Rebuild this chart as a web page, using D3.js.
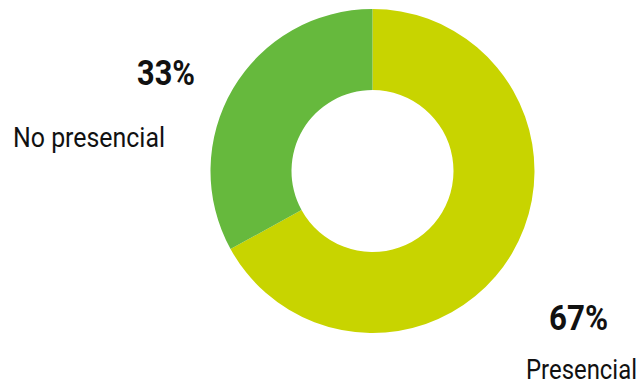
<!DOCTYPE html>
<html>
<head>
<meta charset="utf-8">
<script src="https://cdn.jsdelivr.net/npm/d3@7"></script>
<style>
  html, body { margin: 0; padding: 0; background: #fff; }
  text { font-family: "Roboto", "Liberation Sans", sans-serif; fill: #111; }
</style>
</head>
<body>
<div id="container"></div>
<script>
var labels = ['Presencial', 'No presencial'],
    values = [67, 33],
    colors = ['#c8d400', '#66b93d'],
    width = 643,
    height = 385,
    cx = 372.5,
    cy = 171,
    outerR = 162,
    innerR = 81,
    svg, pie, arc;

svg = d3.select('#container').append('svg')
  .attr('width', width)
  .attr('height', height);

pie = d3.pie().sort(null).value(function (d) { return d; });
arc = d3.arc().innerRadius(innerR).outerRadius(outerR);

svg.append('g')
  .attr('transform', 'translate(' + cx + ',' + cy + ')')
  .selectAll('path')
  .data(pie(values))
  .enter()
  .append('path')
  .attr('d', arc)
  .attr('fill', function (d, i) { return colors[i]; });

// label positions (percent / name) per slice, widths squeezed to a narrow face
var labelPos = [
  { px: 549, py: 330, pw: 59, nx: 526, ny: 379, nw: 111 },
  { px: 137, py: 85, pw: 58, nx: 13, ny: 147, nw: 152 }
];

var total = d3.sum(values);
var g = svg.append('g');
labelPos.forEach(function (p, i) {
  g.append('text')
    .attr('x', p.px)
    .attr('y', p.py)
    .attr('font-size', 35)
    .attr('font-weight', 'bold')
    .attr('textLength', p.pw)
    .attr('lengthAdjust', 'spacingAndGlyphs')
    .text(Math.round(values[i] / total * 100) + '%');
  g.append('text')
    .attr('x', p.nx)
    .attr('y', p.ny)
    .attr('font-size', 27)
    .attr('textLength', p.nw)
    .attr('lengthAdjust', 'spacingAndGlyphs')
    .text(labels[i]);
});
</script>
</body>
</html>
